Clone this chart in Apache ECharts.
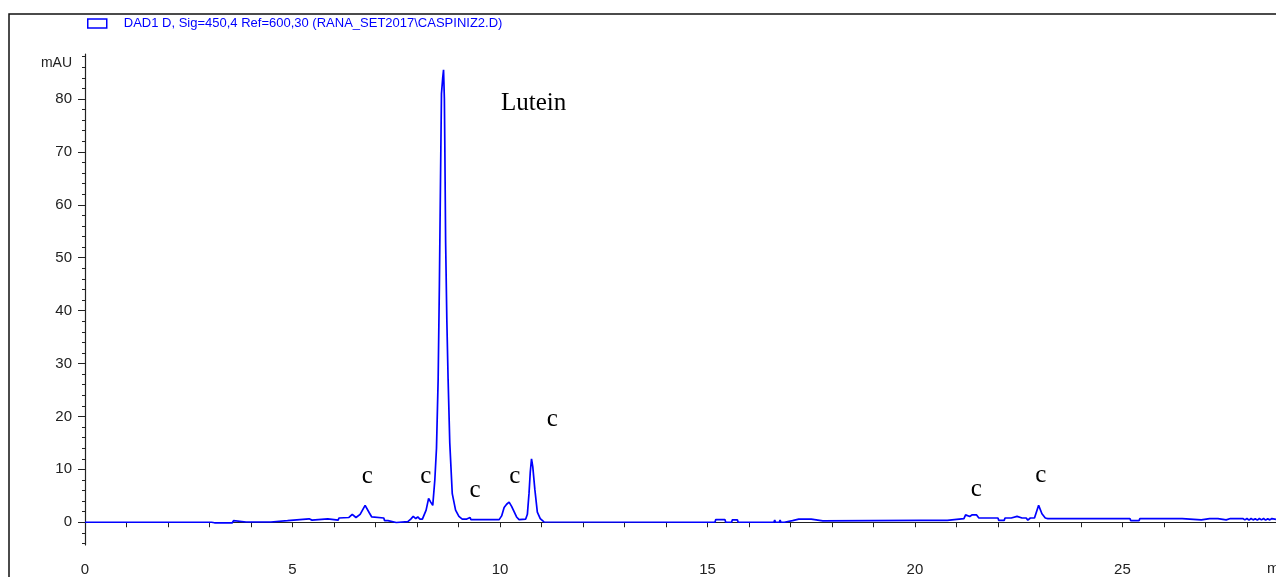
<!DOCTYPE html>
<html>
<head>
<meta charset="utf-8">
<title>DAD1 D chromatogram</title>
<script src="https://cdn.jsdelivr.net/npm/echarts@6/dist/echarts.min.js"></script>
<style>
  html, body { margin: 0; background: #fff; }
  #chart { width: 1276px; height: 577px; }
</style>
</head>
<body>
<div id="chart"></div>
<script>
// retention time (min) and signal (mAU)
var rtMin = [
  0, 2.78, 2.8, 2.83, 3.05, 3.07, 3.12, 3.55, 3.58, 3.62, 3.88, 3.9, 3.93, 4.48, 4.5, 4.88, 4.9,
  5.4, 5.42, 5.47, 5.49, 5.85, 5.87, 6.1, 6.12, 6.36, 6.44, 6.53, 6.63, 6.75, 6.85, 6.91,
  7.2, 7.22, 7.3, 7.32, 7.5, 7.52, 7.78, 7.85, 7.91, 7.97, 8.02, 8.07, 8.13, 8.22, 8.28, 8.33, 8.38,
  8.43, 8.47, 8.51, 8.54, 8.57, 8.59, 8.62, 8.64, 8.66, 8.67, 8.69, 8.72, 8.75, 8.79, 8.85, 8.93,
  9.01, 9.09, 9.2, 9.23, 9.28, 9.3, 9.98, 10.04, 10.1, 10.16, 10.22, 10.28, 10.34, 10.4, 10.46,
  10.62, 10.66, 10.7, 10.73, 10.76, 10.79, 10.84, 10.9, 10.97, 11.06, 11.1,
  15.18, 15.2, 15.42, 15.44, 15.58, 15.6, 15.72, 15.74, 15.98, 16.0, 16.02, 16.6, 16.62, 16.64,
  16.73, 16.75, 16.77, 16.85, 16.87, 17.05, 17.07, 17.2, 17.22, 17.24, 17.35, 17.37, 17.5, 17.52,
  17.78, 17.8, 17.82, 20.14, 20.16, 20.18, 20.4, 20.42, 20.44, 20.6, 20.62, 20.64, 20.78, 20.8,
  21.18, 21.22, 21.32, 21.38, 21.48, 21.54, 21.58, 22.0, 22.02, 22.15, 22.17, 22.32, 22.36, 22.46,
  22.5, 22.58, 22.68, 22.72, 22.78, 22.88, 22.98, 23.06, 23.14, 23.2, 23.76, 23.78, 23.8,
  23.98, 24.0, 24.02, 24.32, 24.34, 24.36, 25.18, 25.2, 25.4, 25.42, 25.58, 25.6, 25.62, 25.73,
  25.75, 25.77, 25.98, 26.0, 26.1, 26.44, 26.46, 26.9, 26.92, 27.1, 27.12, 27.3, 27.32, 27.5,
  27.52, 27.6, 27.62, 27.8, 27.82, 27.9, 27.95, 28.0, 28.05, 28.1, 28.15, 28.2, 28.25, 28.3,
  28.35, 28.4, 28.45, 28.5, 28.55, 28.6, 28.7
];
var mAU = [
  0, 0, 0.3, 0, 0, -0.25, -0.1, -0.1, 0.3, 0.05, 0.05, 0.35, 0.05, 0.05, 0.3, 0.3, 0.65,
  0.65, 0.4, 0.4, 0.65, 0.65, 0.4, 0.4, 0.8, 0.9, 1.5, 0.9, 1.5, 3.2, 1.8, 1.0,
  0.8, 0.3, 0.3, -0.05, -0.05, 0.1, 0.1, 0.6, 1.1, 0.7, 1.0, 0.6, 0.6, 2.3, 4.5, 3.8, 3.2,
  8.0, 14, 27, 45, 67, 81, 84, 85.5, 80, 72, 53, 38, 27, 15, 5.4, 2.3,
  1.1, 0.6, 0.6, 0.9, 0.9, 0.5, 0.5, 1.2, 2.8, 3.4, 3.8, 3.0, 2.0, 1.0, 0.5,
  0.6, 1.5, 5.5, 9.5, 12.0, 10.5, 6.2, 1.9, 0.7, 0.05, 0,
  0, 0.5, 0.5, 0, 0, 0.45, 0.45, 0, 0, 0.3, 0, 0, 0.4, 0,
  0, 0.4, 0, 0, 0.3, 0.3, 0.6, 0.6, 0.8, 0.6, 0.6, 0.8, 0.6, 0.25,
  0.25, 0, 0.25, 0.35, 0.6, 0.35, 0.35, 0.6, 0.35, 0.35, 0.6, 0.35, 0.35, 0.7,
  0.7, 1.4, 1.1, 1.4, 1.4, 0.8, 0.8, 0.8, 0.35, 0.35, 0.8, 0.8, 1.1, 1.1,
  0.8, 0.8, 0.8, 0.4, 0.8, 0.8, 3.2, 1.6, 0.8, 0.7, 0.7, 1.0, 0.7,
  0.7, 0.35, 0.7, 0.7, 0.35, 0.7, 0.7, 0.3, 0.3, 0.7, 0.7, 0.35, 0.7, 0.7,
  0.35, 0.7, 0.7, 0.45, 0.7, 0.7, 0.45, 0.45, 0.7, 0.7, 0.45, 0.7, 0.7, 0.45,
  0.7, 0.7, 0.45, 0.7, 0.45, 0.7, 0.45, 0.7, 0.4, 0.7, 0.45, 0.65, 0.4, 0.7,
  0.45, 0.7, 0.4, 0.65, 0.45, 0.7, 0.55
];

// peak annotations: text, retention time, label height (mAU)
var peakNames = ["Lutein", "c", "c", "c", "c", "c", "c", "c"];
var peakRt = [10.81, 6.8, 8.21, 9.4, 10.36, 11.26, 21.48, 23.03];
var peakLabelY = [79.1, 8.7, 8.7, 6.0, 8.7, 19.4, 6.2, 8.8];

var xTicks = [0, 1, 2, 3, 4, 5, 6, 7, 8, 9, 10, 11, 12, 13, 14, 15, 16, 17, 18, 19, 20, 21, 22, 23, 24, 25, 26, 27, 28];
var xLabels = [0, 5, 10, 15, 20, 25];
var yMajor = [0, 10, 20, 30, 40, 50, 60, 70, 80];
var yMinor = [-4, -2, 2, 4, 6, 8, 12, 14, 16, 18, 22, 24, 26, 28, 32, 34, 36, 38, 42, 44, 46, 48,
  52, 54, 56, 58, 62, 64, 66, 68, 72, 74, 76, 78, 82, 84, 86, 88];

var seriesName = "DAD1 D, Sig=450,4 Ref=600,30 (RANA_SET2017\\CASPINIZ2.D)";
var tickFont = "'Liberation Sans',Arial,sans-serif";
var traceBlue = "#0000ff";

var chart = echarts.init(document.getElementById("chart"));

chart.setOption({
  animation: false,
  backgroundColor: "#fff",
  grid: { left: 85, right: 0, top: 54, bottom: 31.5 },
  legend: {
    left: 87,
    top: 17,
    padding: 0,
    itemWidth: 19,
    itemHeight: 9,
    icon: "rect",
    data: [{
      name: seriesName,
      itemStyle: { color: "#fff", borderColor: traceBlue, borderWidth: 1.5 }
    }],
    textStyle: {
      color: traceBlue,
      fontFamily: "'Liberation Sans',sans-serif",
      fontSize: 13,
      padding: [0, 0, 0, 12]
    }
  },
  xAxis: {
    type: "value",
    min: 0,
    max: 28.7,
    axisLine: { lineStyle: { color: "#222", width: 1.2 } },
    axisTick: { customValues: xTicks, length: 5, lineStyle: { color: "#222" } },
    axisLabel: {
      customValues: xLabels,
      margin: 17,
      color: "#222",
      fontFamily: tickFont,
      fontSize: 15
    },
    splitLine: { show: false }
  },
  yAxis: [{
    type: "value",
    position: "left",
    min: -4.3,
    max: 88.5,
    axisLine: { show: true, lineStyle: { color: "#222", width: 1.2 } },
    axisTick: { show: true, customValues: yMajor, length: 7, lineStyle: { color: "#222" } },
    axisLabel: {
      customValues: yMajor,
      margin: 13,
      color: "#222",
      fontFamily: tickFont,
      fontSize: 15
    },
    splitLine: { show: false }
  }, {
    type: "value",
    position: "left",
    offset: 0,
    min: -4.3,
    max: 88.5,
    axisLine: { show: false },
    axisTick: { show: true, customValues: yMinor, length: 3, lineStyle: { color: "#222" } },
    axisLabel: { show: false },
    splitLine: { show: false }
  }],
  graphic: [
    {
      type: "rect",
      shape: { x: 9, y: 14, width: 1400, height: 700 },
      style: { fill: "none", stroke: "#111", lineWidth: 1.5 },
      silent: true
    },
    {
      type: "text",
      x: 72,
      y: 63,
      style: {
        text: "mAU",
        align: "right",
        verticalAlign: "middle",
        fill: "#222",
        font: "14px " + tickFont
      }
    },
    {
      type: "text",
      x: 1267,
      y: 569,
      style: {
        text: "min",
        align: "left",
        verticalAlign: "middle",
        fill: "#222",
        font: "15px " + tickFont
      }
    }
  ],
  series: [{
    name: seriesName,
    type: "line",
    yAxisIndex: 0,
    showSymbol: false,
    symbol: "none",
    data: rtMin.map(function (t, i) { return [t, mAU[i]]; }),
    lineStyle: { color: traceBlue, width: 1.7 },
    itemStyle: { color: traceBlue },
    markPoint: {
      symbol: "circle",
      symbolSize: 0,
      silent: true,
      label: {
        show: true,
        position: "inside",
        formatter: "{b}",
        color: "#000",
        fontFamily: "'Liberation Serif','Times New Roman',serif",
        fontSize: 25
      },
      data: peakNames.map(function (n, i) {
        return { name: n, coord: [peakRt[i], peakLabelY[i]] };
      })
    }
  }]
});
</script>
</body>
</html>
